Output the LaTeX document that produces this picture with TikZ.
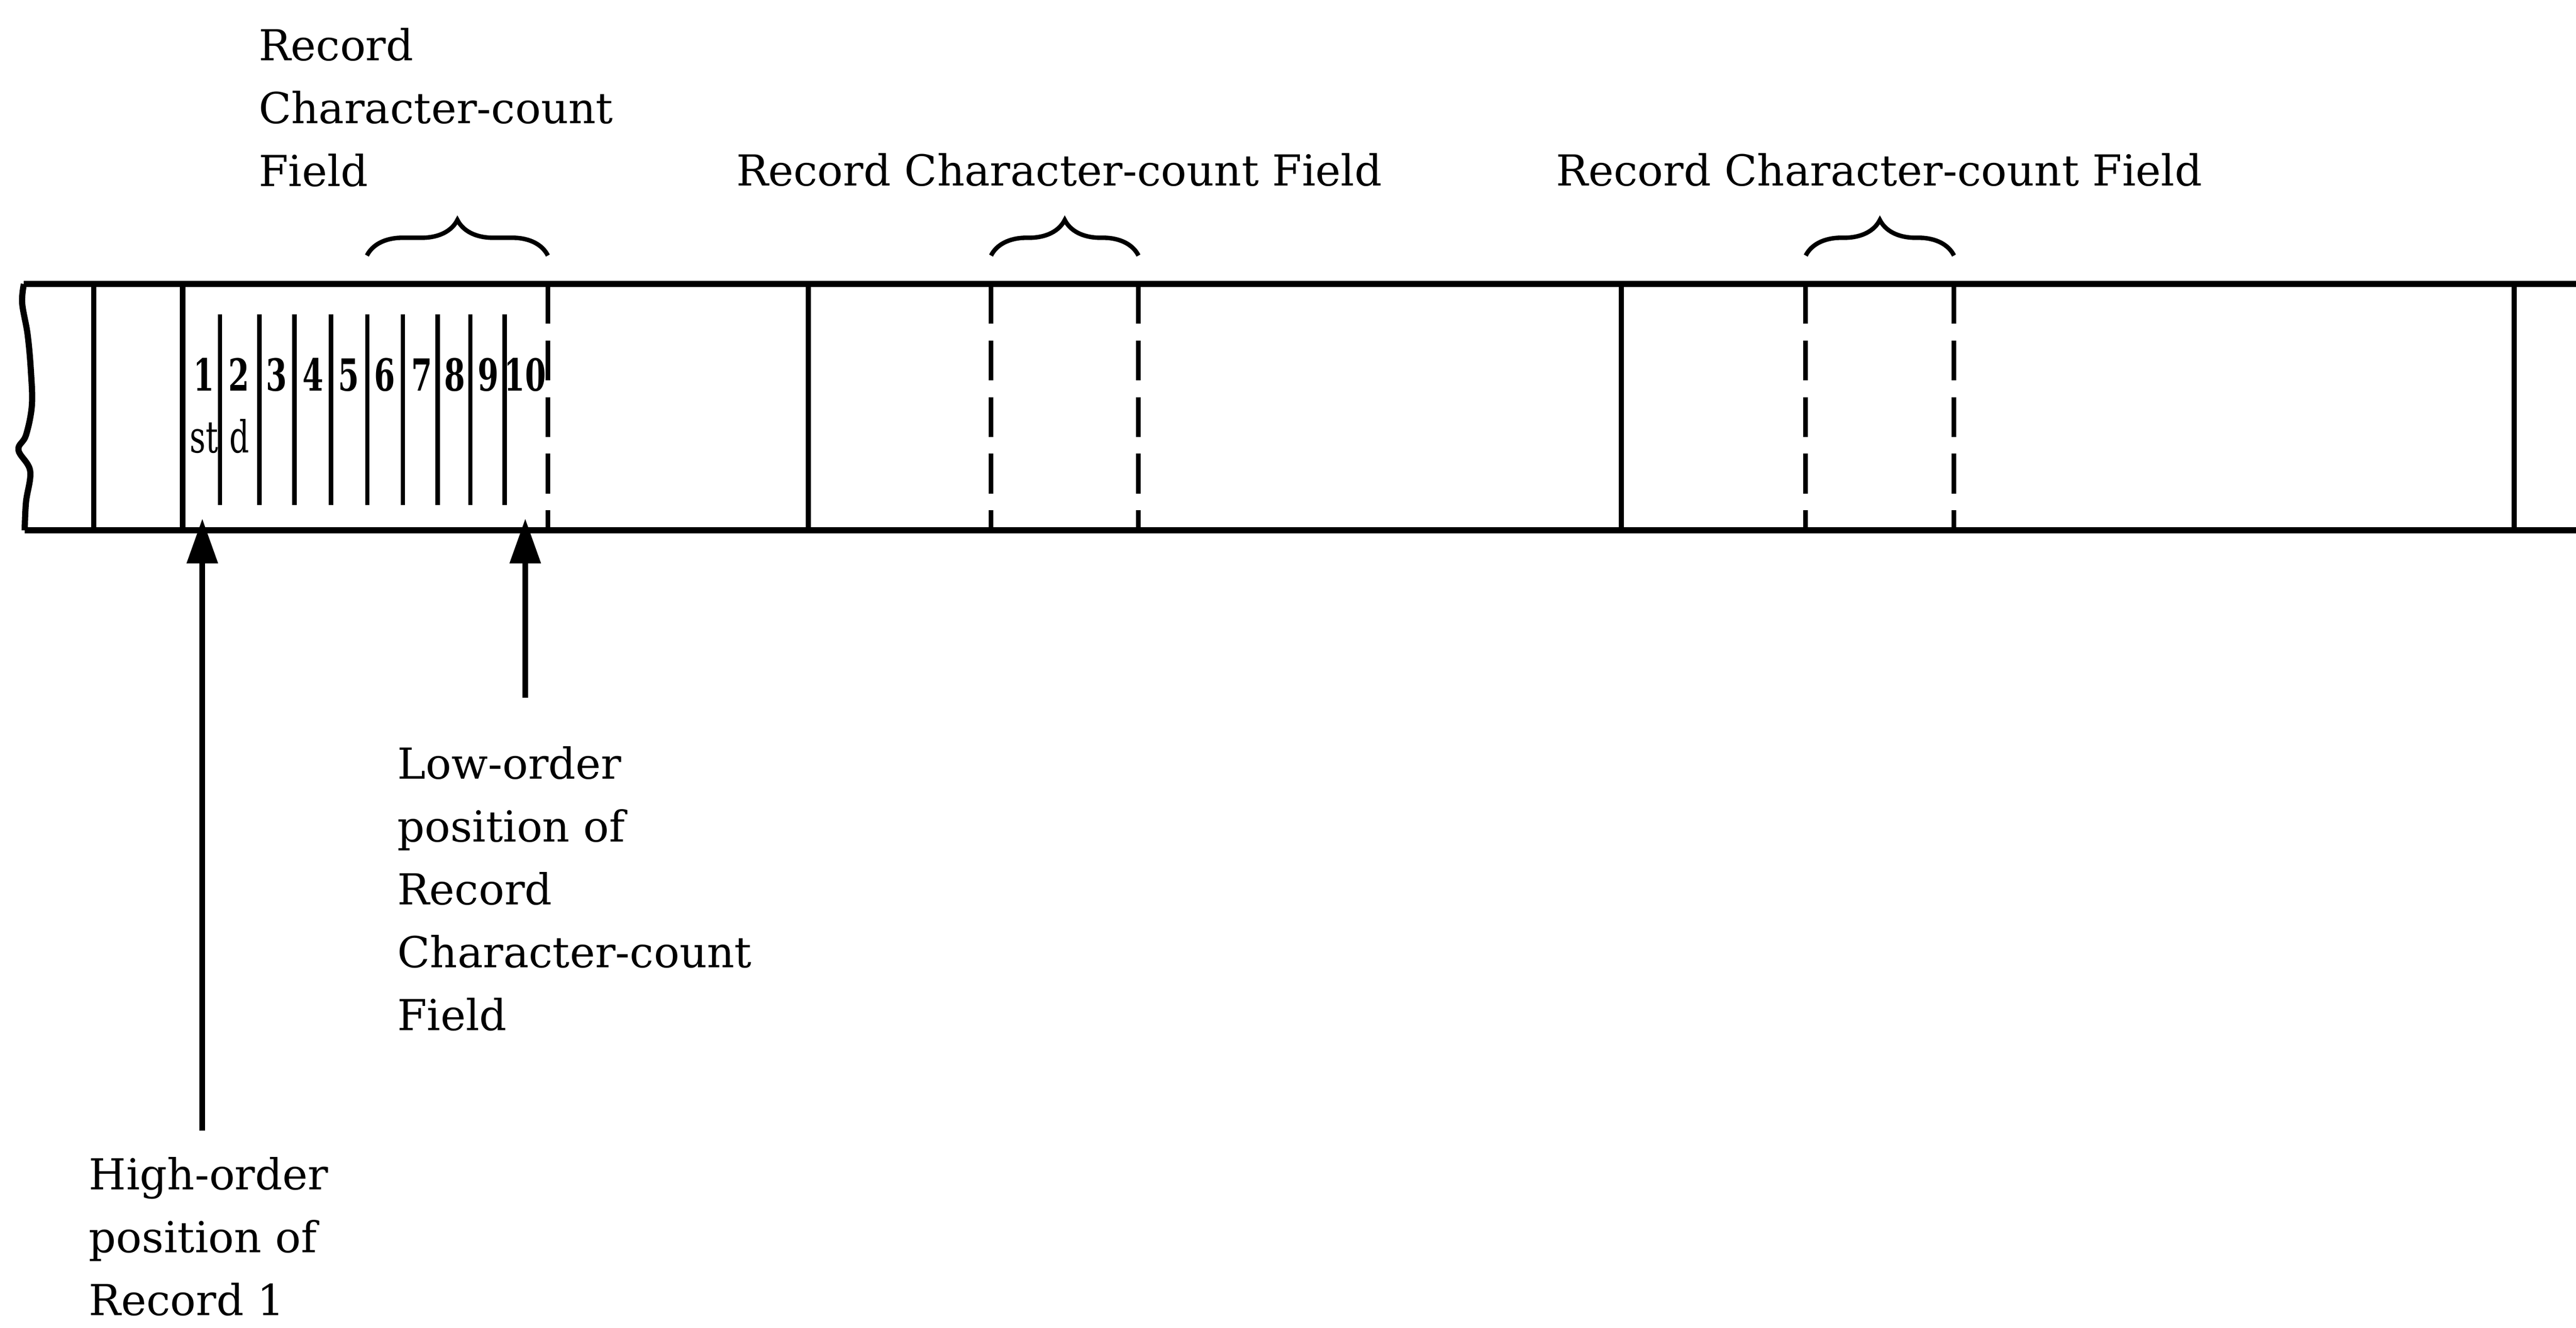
\documentclass[tikz,border=0pt]{standalone}
\usepackage{fontspec}
\setmainfont{DejaVu Serif}
\usetikzlibrary{arrows.meta,decorations.pathreplacing,positioning}

\tikzset{
  tape/.style={line width=4.2pt},
  divider/.style={line width=3.6pt},
  digitline/.style={line width=3pt},
  fieldline/.style={line width=3.2pt, dash pattern=on 0.95cm off 0.4cm},
  fieldbrace/.style={line width=3pt, decorate, decoration={brace, amplitude=0.85cm}},
  pointer/.style={line width=3.7pt, -{Triangle[length=1.07cm,width=0.72cm]}},
  note/.style={font=\fontsize{29}{42.7}\selectfont, inner sep=0pt, align=left},
  cell/.style={font=\fontsize{30}{36}\selectfont, inner sep=0pt, anchor=base},
}

\begin{document}
\begin{tikzpicture}
    \useasboundingbox (0,0) rectangle (61.5,31.69);
    % tape edges
    \draw[tape] plot[smooth, tension=0.6] coordinates {(0.57,24.91) (0.53,24.45) (0.66,23.70) (0.74,22.80)
        (0.76,22.00) (0.62,21.30) (0.44,20.95) (0.72,20.45) (0.62,19.70) (0.59,19.03)};
    \draw[tape] (0.57,24.91) -- (61.5,24.91);
    \draw[tape] (0.59,19.03) -- (61.5,19.03);
    % record limits
    \foreach \x in {2.24,4.36,19.30,38.71,60.02}
        \draw[divider] (\x,24.91) -- (\x,19.03);
    \foreach \x in {13.08,23.66,27.18,43.11,46.65}
        \draw[fieldline] (\x,24.91) -- (\x,19.03);
    % character positions
    \foreach \x in {5.25,6.19,7.03,7.90,8.77,9.62,10.45,11.23,12.05}
        \draw[digitline] (\x,24.19) -- (\x,19.64);
    \foreach \x/\i in {4.87/1,5.71/2,6.60/3,7.48/4,8.33/5,9.19/6,10.07/7,10.86/8,11.66/9,12.54/10}
        \node[cell] (c\i) at (\x,22.36) {\scalebox{0.68}[1]{\bfseries\i}};
    \node[cell] (s1) at (c1 |- 0,20.88) {\scalebox{0.7}[1]{st}};
    \node[cell] (s2) at (c2 |- 0,20.88) {\scalebox{0.7}[1]{d}};
    % braces
    \draw[fieldbrace] (8.76,25.59) -- (13.08,25.59);
    \draw[fieldbrace] (23.66,25.59) -- (27.18,25.59);
    \draw[fieldbrace] (43.11,25.59) -- (46.65,25.59);
    % texts
    \node[note, anchor=north west] (head1) at (6.17,31.02) {Record\\Character-count\\Field};
    \node[note, anchor=base west] (head2) at (17.57,27.26) {Record Character-count Field};
    \node[note, anchor=base west] (head3) at (37.15,27.26) {Record Character-count Field};
    \node[note, anchor=north west] (low) at (9.48,13.88) {Low-order\\position of\\Record\\Character-count\\Field};
    \node[note, anchor=north west] (high) at (2.12,4.08) {High-order\\position of\\Record 1};
    % pointers
    \coordinate (hi tail) at (4.83,4.70);
    \coordinate (hi tip) at (4.83,19.31);
    \coordinate (lo tail) at (c10 |- 0,15.03);
    \coordinate (lo tip) at (c10 |- 0,19.31);
    \draw[pointer] (hi tail) -- (hi tip);
    \draw[pointer] (lo tail) -- (lo tip);
\end{tikzpicture}
\end{document}
